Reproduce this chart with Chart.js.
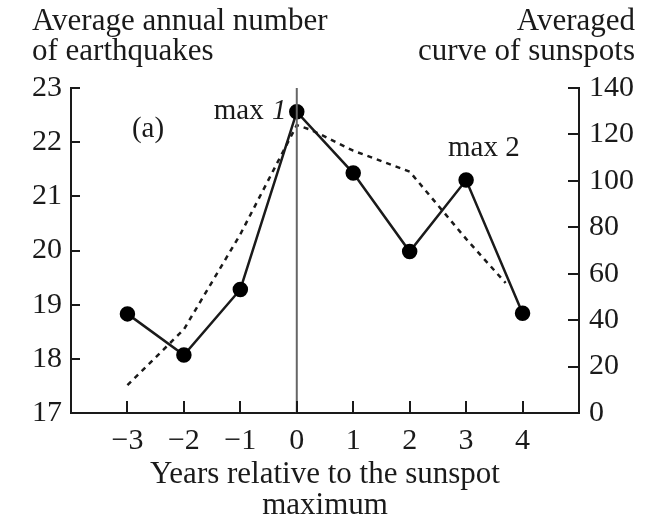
<!DOCTYPE html>
<html>
<head>
<meta charset="utf-8">
<script src="https://cdn.jsdelivr.net/npm/chart.js@4"></script>
<style>
  html, body { margin: 0; padding: 0; background: #fff; }
  #wrap { width: 647px; height: 520px; }
</style>
</head>
<body>
<div id="wrap"><canvas id="chart1"></canvas></div>
<script>
// earthquakes (left axis)
const years = [-3, -2, -1, 0, 1, 2, 3, 4];
const quakes = [18.83, 18.07, 19.28, 22.56, 21.43, 19.98, 21.3, 18.84];

// averaged sunspot curve (right axis)
const sunYears = [-3, -2, -1, 0, 0.25, 1, 2, 3, 3.7];
const sunspots = [12, 36, 77, 124, 122, 113, 104, 75, 56];

const maxLineX = [0, 0];
const maxLineY = [17, 23];

const FONT = 'Liberation Serif';
const ink = '#1a1a1a';

const minus = v => (v < 0 ? '\u2212' + Math.abs(v) : String(v));

const extras = {
  id: 'extras',
  afterDraw(chart) {
    const ctx = chart.ctx;
    const { x, y, y2 } = chart.scales;
    const area = chart.chartArea;
    ctx.save();
    ctx.strokeStyle = ink;
    ctx.lineWidth = 2;
    // inner tick marks
    ctx.beginPath();
    for (let v = -3; v <= 4; v++) {
      const px = Math.round(x.getPixelForValue(v));
      ctx.moveTo(px, area.bottom);
      ctx.lineTo(px, area.bottom - 12);
    }
    for (let v = 17; v <= 23; v++) {
      const py = Math.round(y.getPixelForValue(v));
      ctx.moveTo(area.left, py);
      ctx.lineTo(area.left + 9, py);
    }
    for (let v = 0; v <= 140; v += 20) {
      const py = Math.round(y2.getPixelForValue(v));
      ctx.moveTo(area.right, py);
      ctx.lineTo(area.right - 11, py);
    }
    ctx.stroke();

    ctx.fillStyle = ink;
    ctx.font = '31px "' + FONT + '"';
    ctx.textBaseline = 'alphabetic';
    // axis headers
    ctx.textAlign = 'left';
    ctx.fillText('Average annual number', 32, 30);
    ctx.fillText('of earthquakes', 32, 60);
    ctx.textAlign = 'right';
    ctx.fillText('Averaged', 635, 30);
    ctx.fillText('curve of sunspots', 635, 60);
    // x title
    ctx.textAlign = 'center';
    const cx = (area.left + area.right) / 2;
    ctx.fillText('Years relative to the sunspot', cx, 483);
    ctx.fillText('maximum', cx, 514);

    // annotations
    ctx.font = '29px "' + FONT + '"';
    ctx.textAlign = 'left';
    ctx.fillText('(a)', x.getPixelForValue(-2.92), y.getPixelForValue(22.1));
    ctx.fillText('max', x.getPixelForValue(-1.47), y.getPixelForValue(22.42));
    ctx.font = 'italic 29px "' + FONT + '"';
    ctx.fillText('1', x.getPixelForValue(-0.44), y.getPixelForValue(22.42));
    ctx.font = '29px "' + FONT + '"';
    ctx.fillText('max 2', x.getPixelForValue(2.68), y.getPixelForValue(21.75));
    ctx.restore();
  }
};

new Chart(document.getElementById('chart1'), {
  type: 'line',
  data: {
    datasets: [
      {
        label: 'max line',
        data: maxLineX.map((v, i) => ({ x: v, y: maxLineY[i] })),
        yAxisID: 'y',
        borderColor: '#666',
        borderWidth: 2,
        pointRadius: 0
      },
      {
        label: 'Sunspots',
        data: sunYears.map((v, i) => ({ x: v, y: sunspots[i] })),
        yAxisID: 'y2',
        borderColor: ink,
        borderWidth: 2.5,
        borderDash: [5, 5],
        pointRadius: 0,
        tension: 0
      },
      {
        label: 'Earthquakes',
        data: years.map((v, i) => ({ x: v, y: quakes[i] })),
        yAxisID: 'y',
        borderColor: ink,
        borderWidth: 2.5,
        pointRadius: 6.5,
        pointBackgroundColor: '#000',
        pointBorderColor: '#000',
        tension: 0
      }
    ]
  },
  options: {
    responsive: true,
    maintainAspectRatio: false,
    animation: false,
    layout: { padding: { top: 88, left: 0, right: 0, bottom: 0 } },
    plugins: {
      legend: { display: false },
      tooltip: { enabled: false }
    },
    scales: {
      x: {
        type: 'linear',
        min: -4,
        max: 5,
        grid: { display: false, drawTicks: false },
        border: { display: true, color: ink, width: 2 },
        ticks: {
          stepSize: 1,
          padding: 10,
          color: ink,
          font: { family: FONT, size: 30 },
          maxRotation: 0,
          callback: v => (v < -3 || v > 4 ? '' : minus(v))
        },
        afterFit: s => { s.height = 107; }
      },
      y: {
        position: 'left',
        min: 17,
        max: 23,
        grid: { display: false, drawTicks: false },
        border: { display: true, color: ink, width: 2 },
        ticks: {
          stepSize: 1,
          padding: 9,
          color: ink,
          font: { family: FONT, size: 30 }
        },
        afterFit: s => { s.width = 71; }
      },
      y2: {
        position: 'right',
        min: 0,
        max: 140,
        grid: { display: false, drawTicks: false },
        border: { display: true, color: ink, width: 2 },
        ticks: {
          stepSize: 20,
          padding: 10,
          color: ink,
          font: { family: FONT, size: 30 }
        },
        afterFit: s => { s.width = 68; }
      }
    }
  },
  plugins: [extras]
});
</script>
</body>
</html>
